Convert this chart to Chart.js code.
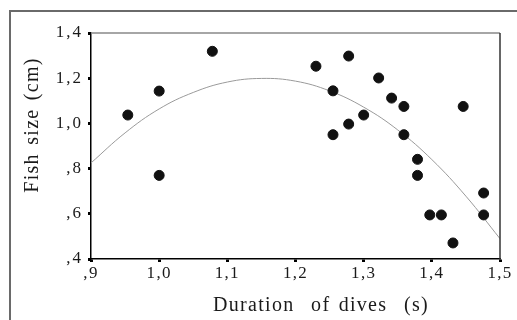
<!DOCTYPE html>
<html>
<head>
<meta charset="utf-8">
<script src="https://cdn.jsdelivr.net/npm/chart.js@4/dist/chart.umd.min.js"></script>
<style>
  html, body { margin: 0; padding: 0; background: #fff; }
  canvas { display: block; }
</style>
</head>
<body>
<canvas id="chart" width="517" height="320"></canvas>
<script>
// observed dives
const durations = [0.954, 1.000, 1.000, 1.078, 1.230, 1.255, 1.255, 1.278, 1.278, 1.300, 1.322,
                   1.341, 1.359, 1.359, 1.379, 1.379, 1.397, 1.414, 1.431, 1.446, 1.476, 1.476];
const fishSizes = [1.037, 1.143, 0.770, 1.319, 1.253, 1.144, 0.950, 1.298, 0.997, 1.037, 1.201,
                   1.112, 1.075, 0.950, 0.841, 0.770, 0.595, 0.595, 0.471, 1.075, 0.692, 0.595];

// fitted curve
const curveX = [0.90, 0.95, 1.00, 1.05, 1.10, 1.15, 1.20, 1.25, 1.30, 1.35, 1.40, 1.45, 1.50];
const curveY = [0.825, 0.958, 1.064, 1.137, 1.183, 1.199, 1.187, 1.144, 1.072, 0.971, 0.840, 0.678, 0.490];

const xTickLabels = [',9', '1,0', '1,1', '1,2', '1,3', '1,4', '1,5'];
const yTickLabels = [',4', ',6', ',8', '1,0', '1,2', '1,4'];
const xTitle = 'Duration  of dives  (s)';
const yTitle = 'Fish size (cm)';

const serif = '"Liberation Serif", "Times New Roman", serif';

// outer frame, plot frame and the spaced-out axis titles
const framePlugin = {
  id: 'frame',
  beforeDraw(chart) {
    const ctx = chart.ctx;
    ctx.save();
    ctx.strokeStyle = '#6a6a6a';
    ctx.lineWidth = 2;
    ctx.strokeRect(10, 11, 600, 400);
    ctx.restore();

    // letter spacing per axis for the tick labels
    const spacing = { x: '1.3px', y: '2px' };
    Object.keys(spacing).forEach(id => {
      const scale = chart.scales[id];
      if (scale._spaced) return;
      const orig = scale.drawLabels;
      scale.drawLabels = function (area) {
        this.ctx.save();
        this.ctx.letterSpacing = spacing[id];
        orig.call(this, area);
        this.ctx.restore();
      };
      scale._spaced = true;
    });
  },
  afterDraw(chart) {
    const ctx = chart.ctx;
    const a = chart.chartArea;
    ctx.save();
    ctx.lineWidth = 1.5;
    ctx.strokeStyle = '#888';
    ctx.beginPath();
    ctx.moveTo(a.left, a.top);
    ctx.lineTo(a.right, a.top);
    ctx.stroke();
    ctx.strokeStyle = '#333';
    ctx.beginPath();
    ctx.moveTo(a.right, a.top);
    ctx.lineTo(a.right, a.bottom);
    ctx.stroke();

    ctx.fillStyle = '#1a1a1a';
    ctx.font = '20px ' + serif;
    ctx.letterSpacing = '1.3px';
    ctx.wordSpacing = '2px';
    ctx.textAlign = 'center';
    ctx.textBaseline = 'alphabetic';
    ctx.fillText(xTitle, 321, 310.5);

    ctx.translate(38, 125);
    ctx.rotate(-Math.PI / 2);
    ctx.fillText(yTitle, 0, 0);
    ctx.restore();
  }
};

new Chart(document.getElementById('chart'), {
  type: 'scatter',
  data: {
    datasets: [
      {
        data: durations.map((d, i) => ({ x: d, y: fishSizes[i] })),
        backgroundColor: '#111',
        borderColor: '#111',
        pointRadius: 5,
        pointHoverRadius: 5,
        order: 1
      },
      {
        type: 'line',
        data: curveX.map((d, i) => ({ x: d, y: curveY[i] })),
        borderColor: '#9a9a9a',
        borderWidth: 1,
        pointRadius: 0,
        tension: 0.4,
        fill: false,
        order: 2
      }
    ]
  },
  options: {
    responsive: false,
    animation: false,
    devicePixelRatio: 1,
    layout: { padding: { top: 33, right: 17, left: 0, bottom: 0 } },
    plugins: { legend: { display: false }, tooltip: { enabled: false } },
    scales: {
      x: {
        type: 'linear',
        min: 0.9,
        max: 1.5,
        afterFit: s => { s.height = 61; },
        ticks: {
          stepSize: 0.1,
          padding: 1,
          color: '#1a1a1a',
          font: { family: serif, size: 17 },
          callback: (v, i) => xTickLabels[i]
        },
        grid: { drawOnChartArea: false, tickLength: 3, tickWidth: 3, tickColor: '#000' },
        border: { color: '#000', width: 1.5 }
      },
      y: {
        min: 0.4,
        max: 1.4,
        afterFit: s => { s.width = 91; },
        ticks: {
          stepSize: 0.2,
          padding: 5,
          color: '#1a1a1a',
          font: { family: serif, size: 17 },
          callback: (v, i) => yTickLabels[i]
        },
        grid: { drawOnChartArea: false, tickLength: 3, tickWidth: 3, tickColor: '#000' },
        border: { color: '#000', width: 1.5 }
      }
    }
  },
  plugins: [framePlugin]
});
</script>
</body>
</html>
